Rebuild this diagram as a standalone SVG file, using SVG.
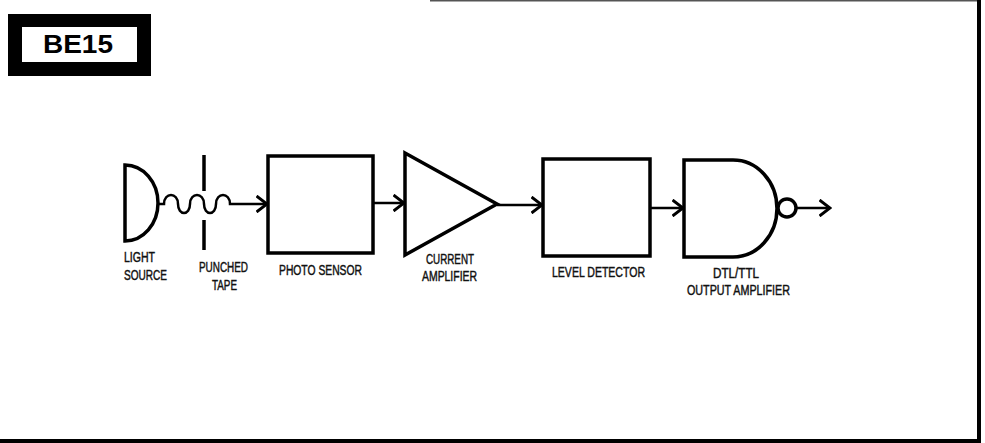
<svg xmlns="http://www.w3.org/2000/svg" width="985" height="443" viewBox="0 0 985 443">
<style>
.s{fill:none;stroke:#000;stroke-width:3.5;stroke-linejoin:miter}
.c{fill:none;stroke:#000;stroke-width:2.5}
.t{font-family:"Liberation Sans",Arial,sans-serif;font-size:14px;fill:#111;stroke:#111;stroke-width:0.45}
</style>
<defs>
<marker id="ah" markerUnits="userSpaceOnUse" viewBox="0 0 13 18" refX="11.5" refY="9" markerWidth="13" markerHeight="18" orient="auto">
<path d="M1,1 L11.5,9 L1,17" fill="none" stroke="#000" stroke-width="3"/>
</marker>
</defs>
<rect width="985" height="443" fill="#fff"/>
<g id="frame">
<line x1="430" y1="0.8" x2="980" y2="0.8" stroke="#555" stroke-width="1.5"/>
<rect x="977" y="0" width="4" height="443" fill="#000"/>
<rect x="0" y="439" width="978" height="4" fill="#000"/>
</g>
<g id="title">
<rect x="8" y="14" width="143" height="62" fill="#000"/>
<rect x="22" y="27" width="115" height="35" fill="#fff"/>
<text x="43" y="53" font-family="Liberation Sans,Arial,sans-serif" font-size="25" font-weight="bold" textLength="70" lengthAdjust="spacingAndGlyphs">BE15</text>
</g>
<g id="light-source">
<path class="s" d="M125,165 V241 A33,38 0 0 0 125,165 Z"/>
<text class="t" x="124" y="262" textLength="31" lengthAdjust="spacingAndGlyphs">LIGHT</text>
<text class="t" x="124" y="280" textLength="43" lengthAdjust="spacingAndGlyphs">SOURCE</text>
</g>
<g id="punched-tape">
<line class="s" x1="204" y1="155" x2="204" y2="191"/>
<line class="s" x1="204" y1="220" x2="204" y2="250"/>
<text class="t" x="199" y="272" textLength="49" lengthAdjust="spacingAndGlyphs">PUNCHED</text>
<text class="t" x="212" y="290" textLength="25" lengthAdjust="spacingAndGlyphs">TAPE</text>
</g>
<g id="photo-sensor">
<rect class="s" x="268" y="156" width="105" height="97"/>
<text class="t" x="279" y="275" textLength="83" lengthAdjust="spacingAndGlyphs">PHOTO  SENSOR</text>
</g>
<g id="current-amplifier">
<path class="s" d="M405,153 L497,204 L405,255 Z"/>
<text class="t" x="426" y="264" textLength="48" lengthAdjust="spacingAndGlyphs">CURRENT</text>
<text class="t" x="422" y="281" textLength="55" lengthAdjust="spacingAndGlyphs">AMPLIFIER</text>
</g>
<g id="level-detector">
<rect class="s" x="543" y="159" width="107" height="97"/>
<text class="t" x="552" y="277" textLength="93" lengthAdjust="spacingAndGlyphs">LEVEL  DETECTOR</text>
</g>
<g id="output-amplifier">
<path class="s" d="M684,160 H733 A44,48.5 0 0 1 733,257 H684 Z"/>
<circle class="s" cx="787" cy="208" r="9"/>
<text class="t" x="713" y="278" textLength="46" lengthAdjust="spacingAndGlyphs">DTL/TTL</text>
<text class="t" x="687" y="295" textLength="103" lengthAdjust="spacingAndGlyphs">OUTPUT AMPLIFIER</text>
</g>
<g id="connectors">
<path class="c" d="M158,204 H164 C164,192 178,192 178,204 C178,216 190,216 190,204 C190,192 204,192 204,204 C204,216 216,216 216,204 C216,192 230,192 230,204 H267" marker-end="url(#ah)"/>
<line class="c" x1="373" y1="203" x2="404" y2="203" marker-end="url(#ah)"/>
<line class="c" x1="497" y1="205" x2="542" y2="205" marker-end="url(#ah)"/>
<line class="c" x1="650" y1="208" x2="683" y2="208" marker-end="url(#ah)"/>
<line class="c" x1="796" y1="208" x2="830" y2="208" marker-end="url(#ah)"/>
</g>
</svg>
